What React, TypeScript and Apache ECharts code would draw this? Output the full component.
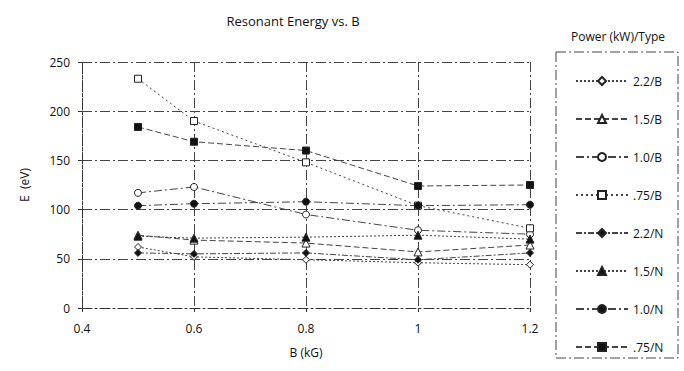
import React, { useEffect, useRef } from "react";
import * as echarts from "echarts";

const bField = [0.5, 0.6, 0.8, 1.0, 1.2];
const seriesNames = ["2.2/B", "1.5/B", "1.0/B", ".75/B", "2.2/N", "1.5/N", "1.0/N", ".75/N"];
const b22 = [62, 52, 49, 46, 44];
const b15 = [74, 69, 66, 57, 64];
const b10 = [117, 123, 95, 79, 75];
const b075 = [233, 190, 148, 104, 81];
const n22 = [56, 55, 56, 49, 56];
const n15 = [73, 71, 72, 74, 70];
const n10 = [104, 106, 108, 104, 105];
const n075 = [184, 169, 160, 124, 125];
const yTicks = [0, 50, 100, 150, 200, 250];
const xTicks = [0.4, 0.6, 0.8, 1.0, 1.2];

const FONT = "Open Sans";

export default function App() {
  const ref = useRef<HTMLDivElement>(null);
  useEffect(() => {
    if (!ref.current) return;
    const chart = echarts.init(ref.current, null, { renderer: "svg" });
    const values = [b22, b15, b10, b075, n22, n15, n10, n075];
    const symbols = ["diamond", "triangle", "circle", "rect", "diamond", "triangle", "circle", "rect"];
    const dashes: number[][] = [
      [2, 2],
      [6, 3],
      [8, 3, 2, 3],
      [2, 3],
      [6, 2, 2, 2],
      [2, 2],
      [8, 3, 2, 3],
      [6, 3],
    ];
    const series = seriesNames.map((name, i) => {
      const filled = i >= 4;
      return {
        name,
        type: "line",
        data: bField.map((x, j) => [x, values[i][j]]),
        symbol: symbols[i],
        symbolSize: symbols[i] === "triangle" ? 8 : 7,
        lineStyle: { color: "#444", width: 1, type: dashes[i] },
        itemStyle: {
          color: filled ? "#111" : "#fff",
          borderColor: "#222",
          borderWidth: 1,
        },
        emphasis: { disabled: true },
      };
    });
    chart.setOption({
      animation: false,
      backgroundColor: "#fff",
      textStyle: { fontFamily: FONT },
      title: {
        text: "Resonant Energy vs. B",
        left: 288,
        textAlign: "center",
        top: 9,
        textStyle: { fontFamily: FONT, fontSize: 13, fontWeight: "normal", color: "#111" },
      },
      grid: { left: 82, right: 154, top: 62, bottom: 63 },
      xAxis: {
        type: "value",
        min: 0.4,
        max: 1.2,
        interval: 0.2,
        name: "B (kG)",
        nameLocation: "middle",
        nameGap: 38,
        nameTextStyle: { fontFamily: FONT, fontSize: 12, color: "#111" },
        axisLine: { show: true, lineStyle: { color: "#333", width: 1, type: [10, 3, 2, 3] } },
        axisTick: { show: true, inside: false, length: 4, lineStyle: { color: "#333" } },
        axisLabel: {
          fontFamily: FONT,
          fontSize: 12,
          color: "#111",
          margin: 14,
          formatter: (v: number) => {
            const t = xTicks.find((x) => Math.abs(x - v) < 1e-6);
            return t === undefined ? "" : String(Math.round(t * 10) / 10);
          },
        },
        splitLine: { show: true, lineStyle: { color: "#444", width: 1, type: [10, 3, 2, 3] } },
      },
      yAxis: {
        type: "value",
        min: 0,
        max: 250,
        interval: 50,
        name: "E  (eV)",
        nameLocation: "middle",
        nameGap: 52,
        nameRotate: 90,
        nameTextStyle: { fontFamily: FONT, fontSize: 12, color: "#111" },
        axisLine: { show: true, lineStyle: { color: "#333", width: 1, type: [10, 3, 2, 3] } },
        axisTick: { show: true, inside: false, length: 4, lineStyle: { color: "#333" } },
        axisLabel: {
          fontFamily: FONT,
          fontSize: 12,
          color: "#111",
          margin: 12,
          formatter: (v: number) => (yTicks.includes(v) ? String(v) : ""),
        },
        splitLine: { show: true, lineStyle: { color: "#444", width: 1, type: [10, 3, 2, 3] } },
      },
      legend: {
        data: seriesNames,
        orient: "vertical",
        left: 570,
        top: 70,
        itemWidth: 52,
        itemHeight: 10,
        itemGap: 26,
        textStyle: { fontFamily: FONT, fontSize: 12, color: "#111" },
        selectedMode: false,
      },
      graphic: [
        {
          type: "rect",
          shape: { x: 556, y: 52, width: 122, height: 306 },
          style: { fill: "none", stroke: "#444", lineWidth: 1, lineDash: [10, 3, 2, 3] },
          silent: true,
        },
        {
          type: "text",
          x: 618,
          y: 36,
          style: {
            text: "Power (kW)/Type",
            fontFamily: FONT,
            fontSize: 12,
            fill: "#111",
            align: "center",
            verticalAlign: "middle",
          },
          silent: true,
        },
      ],
      series,
    });
    return () => chart.dispose();
  }, []);
  return (
    <div
      ref={ref}
      style={{ position: "fixed", left: 0, top: 0, width: 684, height: 371 }}
    />
  );
}
